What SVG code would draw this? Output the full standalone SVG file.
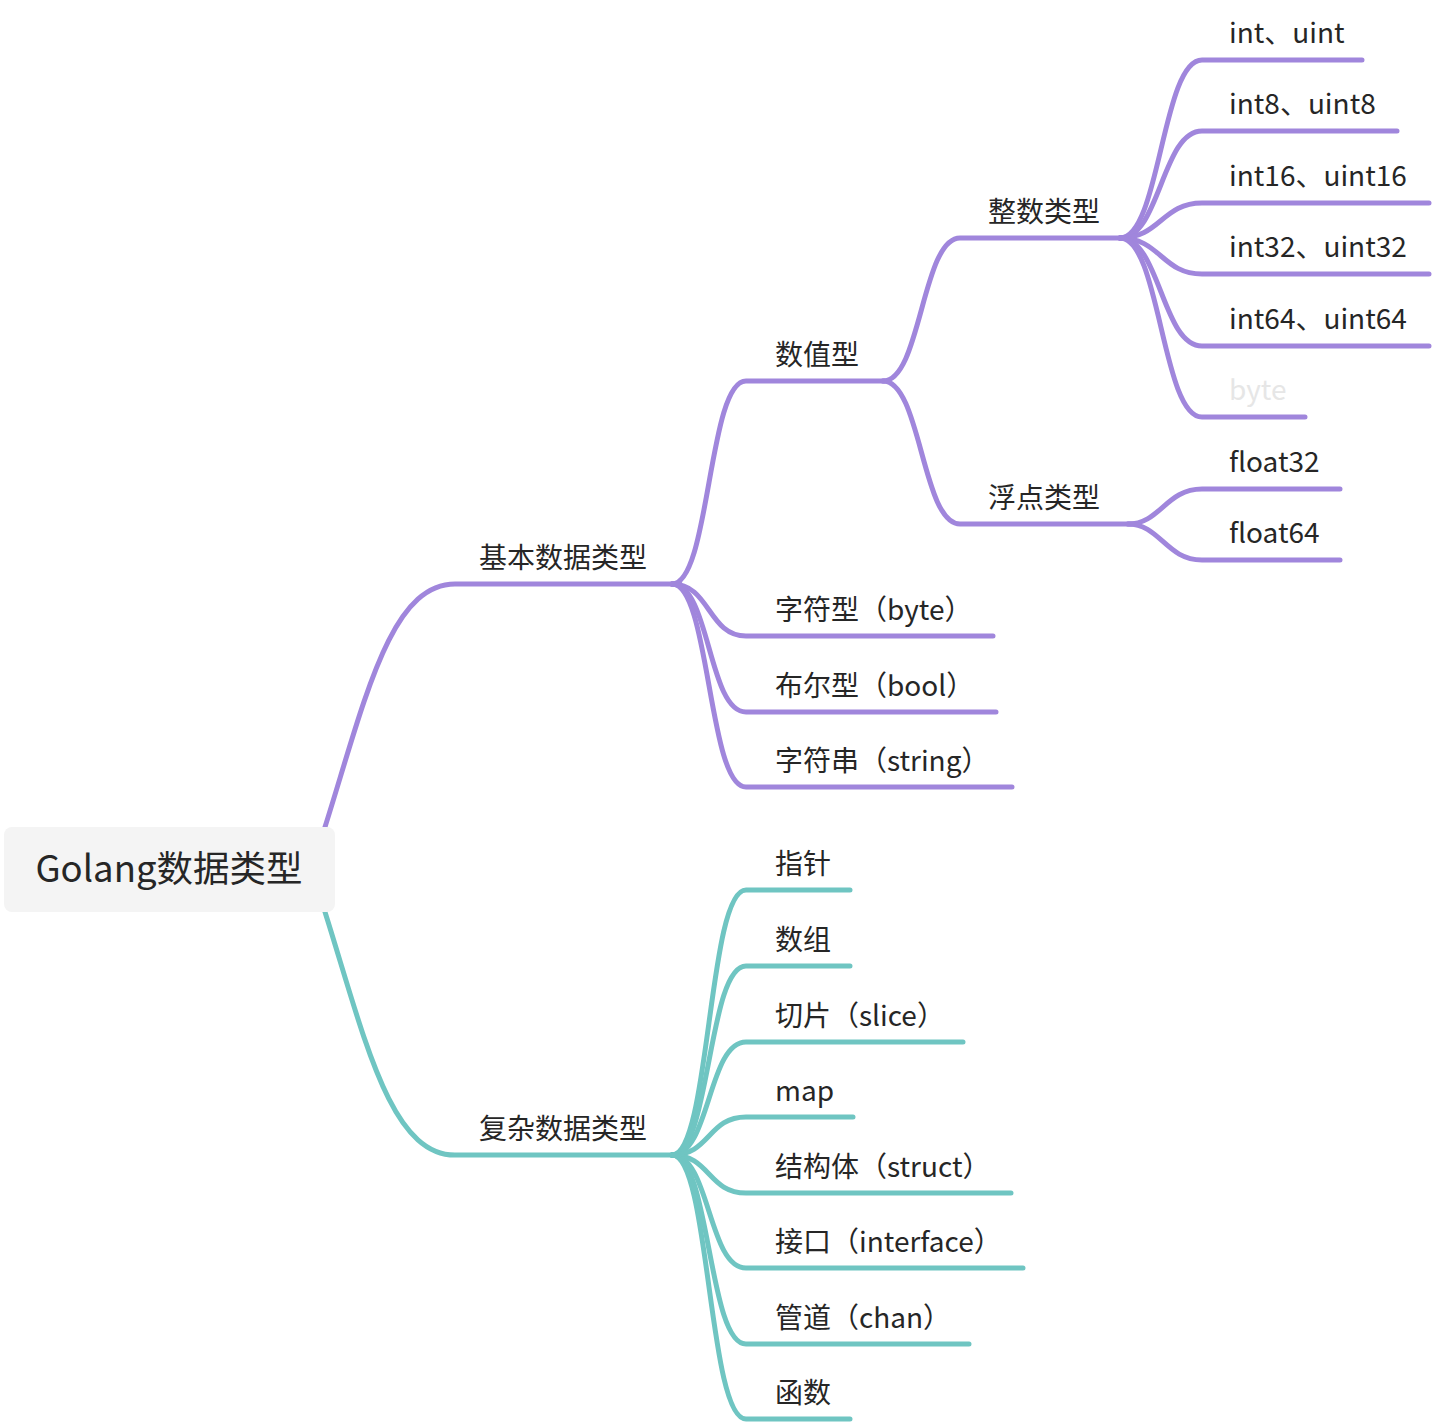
<svg xmlns="http://www.w3.org/2000/svg" width="1432" height="1424" viewBox="0 0 1432 1424">
<style>
.p{fill:none;stroke:#A086DC;stroke-width:5;stroke-linecap:round}
.t{fill:none;stroke:#6FC5C2;stroke-width:5;stroke-linecap:round}
text{font-family:"Noto Sans CJK SC","Microsoft YaHei",sans-serif;font-size:28px;fill:#262626}
.root{font-size:36.5px}
</style>
<rect width="1432" height="1424" fill="#ffffff"/>
<g id="connectors">
<path class="p" d="M325 827 C365 700 390 584 455 584 H680"/>
<path class="t" d="M325 912 C365 1039 390 1155 455 1155 H680"/>
<path class="p" d="M672 584 C710 584 708 381 746 381 H885"/>
<path class="p" d="M672 584 C710 584 708 636 746 636 H993"/>
<path class="p" d="M672 584 C710 584 708 712 746 712 H996"/>
<path class="p" d="M672 584 C710 584 708 787 746 787 H1012"/>
<path class="p" d="M883 381 C921 381 922 238 960 238 H1130"/>
<path class="p" d="M883 381 C921 381 922 524 960 524 H1135"/>
<path class="p" d="M1120 238 C1160 238 1162 60 1202 60 H1362"/>
<path class="p" d="M1120 238 C1160 238 1162 131 1202 131 H1397"/>
<path class="p" d="M1120 238 C1160 238 1162 203 1202 203 H1429"/>
<path class="p" d="M1120 238 C1160 238 1162 274 1202 274 H1429"/>
<path class="p" d="M1120 238 C1160 238 1162 346 1202 346 H1429"/>
<path class="p" d="M1120 238 C1160 238 1162 417 1202 417 H1305"/>
<path class="p" d="M1128 524 C1160 524 1166 489 1202 489 H1340"/>
<path class="p" d="M1128 524 C1160 524 1166 560 1202 560 H1340"/>
<path class="t" d="M672 1155 C710 1155 708 890 746 890 H850"/>
<path class="t" d="M672 1155 C710 1155 708 966 746 966 H850"/>
<path class="t" d="M672 1155 C710 1155 708 1042 746 1042 H963"/>
<path class="t" d="M672 1155 C710 1155 708 1117 746 1117 H853"/>
<path class="t" d="M672 1155 C710 1155 708 1193 746 1193 H1011"/>
<path class="t" d="M672 1155 C710 1155 708 1268 746 1268 H1023"/>
<path class="t" d="M672 1155 C710 1155 708 1344 746 1344 H969"/>
<path class="t" d="M672 1155 C710 1155 708 1419 746 1419 H850"/>
</g>
<g id="root"><rect x="4" y="827" width="331" height="85" rx="8" fill="#F4F4F4"/><text class="root" x="169" y="882" text-anchor="middle">Golang数据类型</text></g>
<g id="basic"><text x="479" y="568">基本数据类型</text></g>
<g id="complex"><text x="479" y="1139">复杂数据类型</text></g>
<g id="numeric"><text x="775" y="365">数值型</text></g>
<g id="char"><text x="775" y="620">字符型（byte）</text></g>
<g id="bool"><text x="775" y="696">布尔型（bool）</text></g>
<g id="string"><text x="775" y="771">字符串（string）</text></g>
<g id="integer"><text x="988" y="222">整数类型</text></g>
<g id="float"><text x="988" y="508">浮点类型</text></g>
<g id="int"><text x="1229" y="43">int、uint</text></g>
<g id="int8"><text x="1229" y="114">int8、uint8</text></g>
<g id="int16"><text x="1229" y="186">int16、uint16</text></g>
<g id="int32"><text x="1229" y="257">int32、uint32</text></g>
<g id="int64"><text x="1229" y="329">int64、uint64</text></g>
<g id="byte"><text x="1229" y="400" style="fill:#E6E6E6">byte</text></g>
<g id="float32"><text x="1229" y="472">float32</text></g>
<g id="float64"><text x="1229" y="543">float64</text></g>
<g id="pointer"><text x="775" y="874">指针</text></g>
<g id="array"><text x="775" y="950">数组</text></g>
<g id="slice"><text x="775" y="1026">切片（slice）</text></g>
<g id="map"><text x="775" y="1101">map</text></g>
<g id="struct"><text x="775" y="1177">结构体（struct）</text></g>
<g id="interface"><text x="775" y="1252">接口（interface）</text></g>
<g id="chan"><text x="775" y="1328">管道（chan）</text></g>
<g id="func"><text x="775" y="1403">函数</text></g>
</svg>
